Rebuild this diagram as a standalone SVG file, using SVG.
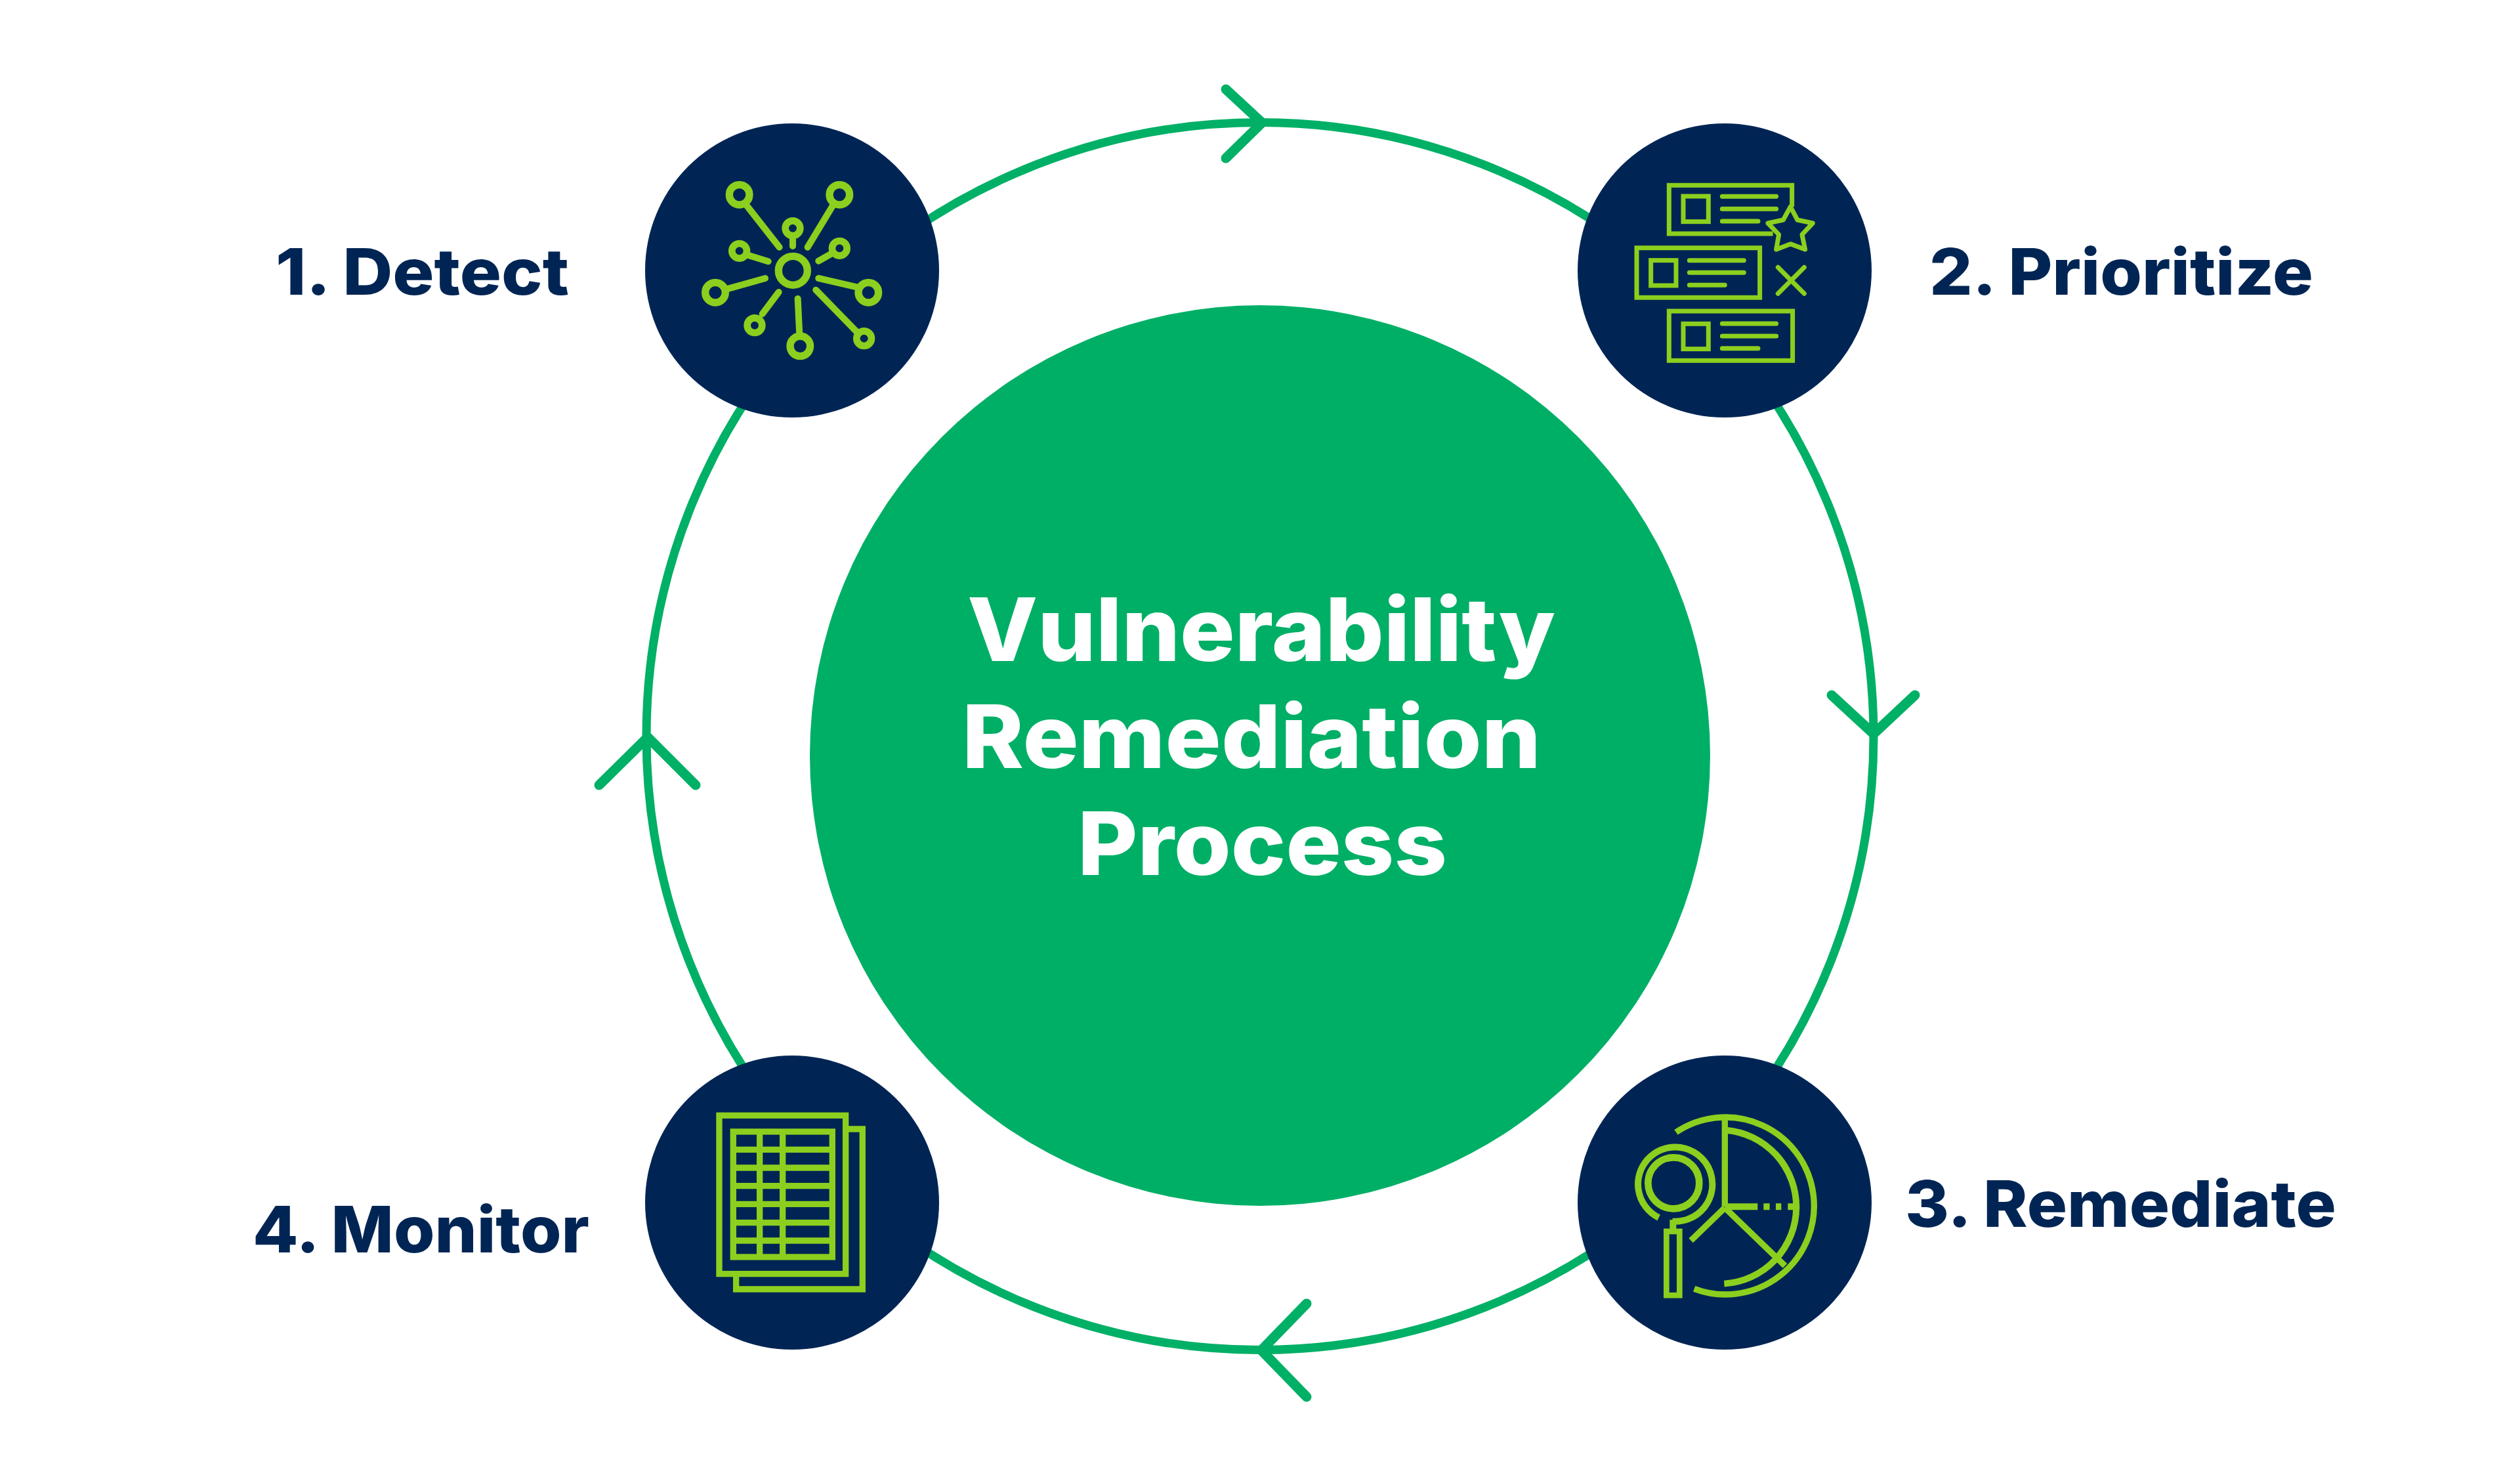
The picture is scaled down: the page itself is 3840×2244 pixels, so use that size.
<svg xmlns="http://www.w3.org/2000/svg" width="3840" height="2244" viewBox="0 0 3840 2244">
<style>
.bg{fill:#fff}
.ring{fill:none;stroke:#00b066;stroke-width:13}
.head{fill:none;stroke:#00b066;stroke-width:15;stroke-linecap:round;stroke-linejoin:miter}
.hub{fill:#00af66}
.disc{fill:#002554}
.ico{fill:none;stroke:#8ccf1e;stroke-width:28}
.rd{stroke-linecap:round}
.title{font-family:"Inter","Liberation Sans",sans-serif;font-weight:800;font-size:133px;fill:#fff}
.lab{font-family:"Inter","Liberation Sans",sans-serif;font-weight:800;font-size:98px;fill:#002554}
</style>
<rect class="bg" width="3840" height="2244"/>
<g id="connectors">
<circle class="ring" cx="1920" cy="1121.5" r="935"/>
<polyline class="head" points="1868,136 1923,187 1868,241"/>
<polyline class="head" points="2791,1059 2855,1118 2918,1059"/>
<polyline class="head" points="1991,1986 1922,2057 1991,2128"/>
<polyline class="head" points="913,1196 987,1123 1060,1196"/>
</g>
<g id="hub">
<circle class="hub" cx="1920" cy="1151" r="686"/>
<text class="title" x="1474" y="1007" textLength="896" lengthAdjust="spacingAndGlyphs">Vulnerability</text>
<text class="title" x="1466" y="1170" textLength="882" lengthAdjust="spacingAndGlyphs">Remediation</text>
<text class="title" x="1642" y="1333" textLength="563" lengthAdjust="spacingAndGlyphs">Process</text>
</g>
<g id="node1">
<circle class="disc" cx="1207" cy="412" r="224"/>
<text class="lab" x="420" y="449" textLength="447" lengthAdjust="spacingAndGlyphs">1. Detect</text>
<g transform="translate(960 170) scale(.3333)">
<g class="ico" style="stroke-width:34"><circle cx="745" cy="727" r="66"/><circle cx="500" cy="380" r="46"/><circle cx="958" cy="380" r="46"/><circle cx="390" cy="827" r="46"/><circle cx="1090" cy="827" r="46"/><circle cx="778" cy="1072" r="46"/></g>
<g class="ico" style="stroke-width:32"><circle cx="744" cy="533" r="34"/><circle cx="500" cy="637" r="34"/><circle cx="958" cy="625" r="34"/><circle cx="570" cy="977" r="34"/><circle cx="1070" cy="1037" r="34"/></g>
<path class="ico rd" style="stroke-width:30" d="M530 425L683 620M930 425L812 620M744 580V615M535 655L632 685M920 650L862 683M440 812L618 762M1040 803L862 762M680 825L605 925M767 855L775 1020M850 815L1035 1005"/>
</g>
</g>
<g id="node2">
<circle class="disc" cx="2628" cy="412" r="224"/>
<text class="lab" x="2940" y="449" textLength="585" lengthAdjust="spacingAndGlyphs">2. Prioritize</text>
<g transform="translate(2380 170) scale(.3333)">
<g class="ico" style="stroke-width:21">
<path d="M1052 435V337H490V558H965"/><rect x="555" y="387" width="115" height="116"/>
<rect x="342" y="623" width="563" height="227"/><rect x="407" y="680" width="115" height="115"/>
<rect x="490" y="912" width="565" height="226"/><rect x="555" y="970" width="115" height="115"/>
<path class="rd" d="M733 388H980M733 445H980M733 501H897M583 680H832M583 736H832M583 793H745M733 969H980M733 1026H980M733 1082H897M988 712L1108 832M1108 712L988 832"/>
<polygon stroke-linejoin="round" points="1045,435 1077,495 1147,510 1098,562 1112,630 1045,605 980,630 992,562 942,510 1012,495"/>
</g>
</g>
</g>
<g id="node3">
<circle class="disc" cx="2628" cy="1832" r="224"/>
<text class="lab" x="2903" y="1869" textLength="657" lengthAdjust="spacingAndGlyphs">3. Remediate</text>
<g transform="translate(2380 1590) scale(.3333)">
<g class="ico">
<path d="M522 405A405 405 0 1 1 605 1120"/>
<path stroke-width="30" d="M750 395A352 352 0 0 1 742 1097"/>
<path d="M745 345V745M745 750L590 900M745 750L1020 1015"/>
<path stroke-width="30" d="M745 745H895M922 745H950M978 745H1003M1033 745H1060"/>
<path stroke-width="30" d="M443 795A170 170 0 1 1 505 812M508 805V850"/>
<circle cx="511" cy="637" r="117" stroke-width="32"/>
<rect x="478" y="858" width="60" height="292" stroke-width="26"/>
</g>
</g>
</g>
<g id="node4">
<circle class="disc" cx="1207" cy="1832" r="224"/>
<text class="lab" x="385" y="1908" textLength="513" lengthAdjust="spacingAndGlyphs">4. Monitor</text>
<g transform="translate(960 1590) scale(.3333)">
<g class="ico">
<rect x="408" y="328" width="578" height="724"/>
<path d="M998 390H1063V1122H485V1060"/>
<rect x="472" y="402" width="453" height="573"/>
<path d="M472 484H925M472 567H925M472 650H925M472 733H925M472 818H925M472 900H925M593 402V975M698 402V975"/>
</g>
</g>
</g>
</svg>
